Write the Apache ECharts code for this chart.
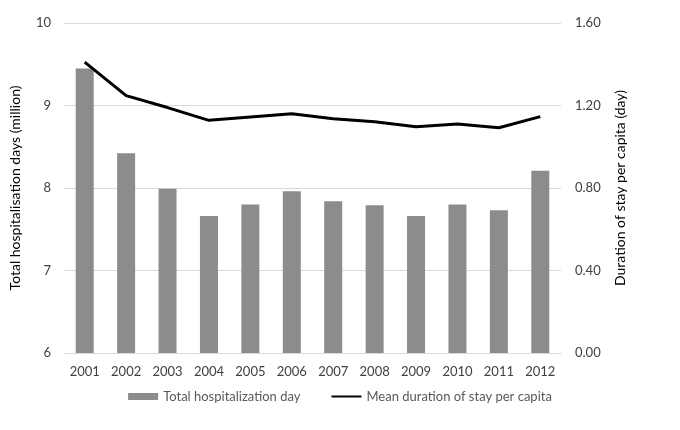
<!DOCTYPE html>
<html>
<head>
<meta charset="utf-8">
<script src="https://cdn.jsdelivr.net/npm/echarts@6/dist/echarts.min.js"></script>
<style>html,body{margin:0;padding:0;background:#fff}#c{width:680px;height:430px}</style>
</head>
<body>
<div id="c"></div>
<script>
const years = ['2001','2002','2003','2004','2005','2006','2007','2008','2009','2010','2011','2012'];
const totalDays = [9.45, 8.42, 7.99, 7.66, 7.80, 7.96, 7.84, 7.79, 7.66, 7.80, 7.73, 8.21];
const meanDuration = [1.41, 1.248, 1.19, 1.128, 1.144, 1.160, 1.136, 1.121, 1.097, 1.110, 1.092, 1.146];
const leftTicks = [6, 10, 1];
const rightTicks = [0, 1.6, 0.4];

const font = 'Lato, "Open Sans", sans-serif';
const chart = echarts.init(document.getElementById('c'), null, {renderer: 'canvas'});
chart.setOption({
  animation: false,
  textStyle: {fontFamily: font},
  grid: {left: 57, right: 119, top: 23, bottom: 77},
  legend: {
    bottom: 22, left: 'center', itemGap: 30, itemWidth: 30, itemHeight: 7,
    textStyle: {fontSize: 13, color: '#595959', fontFamily: font},
    data: [
      {name: 'Total hospitalization day', icon: 'rect'},
      {name: 'Mean duration of stay per capita', itemStyle: {color: 'rgba(0,0,0,0)', borderWidth: 0, opacity: 0}}
    ]
  },
  xAxis: {
    type: 'category', data: years,
    axisLine: {lineStyle: {color: '#d9d9d9', width: 1}},
    axisTick: {show: false},
    axisLabel: {color: '#404040', fontSize: 13, margin: 12}
  },
  yAxis: [{
    type: 'value', min: leftTicks[0], max: leftTicks[1], interval: leftTicks[2],
    name: 'Total hospitalisation days (million)', nameLocation: 'middle', nameGap: 42,
    nameTextStyle: {fontSize: 14, color: '#000'},
    axisLine: {show: false}, axisTick: {show: false},
    axisLabel: {color: '#404040', fontSize: 13, margin: 13},
    splitLine: {lineStyle: {color: '#d9d9d9'}}
  }, {
    type: 'value', min: rightTicks[0], max: rightTicks[1], interval: rightTicks[2],
    name: 'Duration of stay per capita (day)', nameLocation: 'middle', nameGap: 52, nameRotate: 90,
    nameTextStyle: {fontSize: 14, color: '#000'},
    axisLine: {show: false}, axisTick: {show: false},
    axisLabel: {color: '#404040', fontSize: 13, margin: 14, formatter: v => v.toFixed(2)},
    splitLine: {show: false}
  }],
  series: [{
    name: 'Total hospitalization day', type: 'bar', data: totalDays, barWidth: 18,
    itemStyle: {color: '#8c8c8c'}
  }, {
    name: 'Mean duration of stay per capita', type: 'line', yAxisIndex: 1, data: meanDuration,
    symbol: 'none', lineStyle: {color: '#000', width: 3}, itemStyle: {color: '#000'}
  }]
});
</script>
</body>
</html>
